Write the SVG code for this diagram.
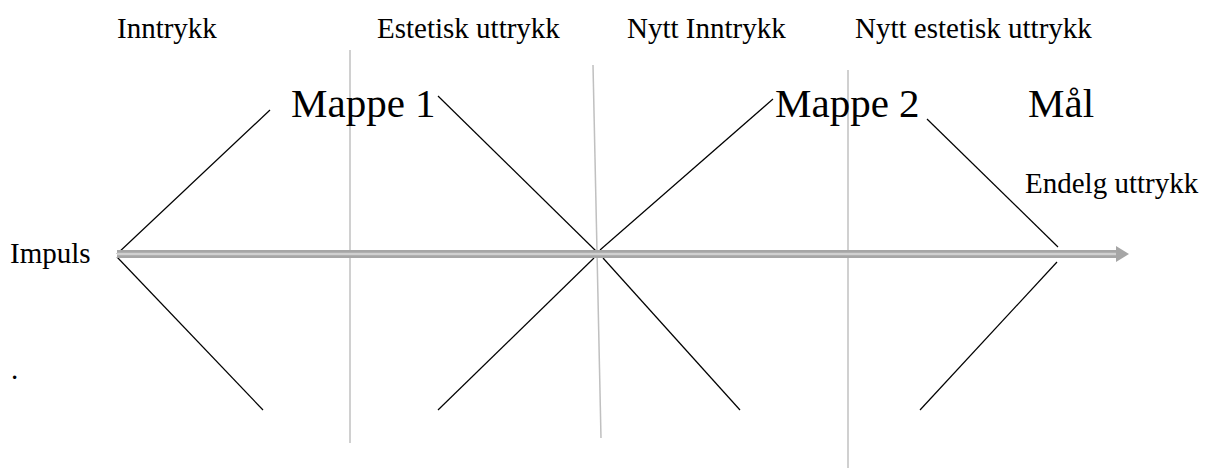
<svg xmlns="http://www.w3.org/2000/svg" width="1210" height="469" viewBox="0 0 1210 469">
<style>
text{font-family:"Liberation Serif","Times New Roman",serif;fill:#000}
.s{font-size:29px}
.b{font-size:41px}
.bl{stroke:#000;stroke-width:1.2;fill:none}
.gv{stroke:#c0c0c0;stroke-width:1.5;fill:none}
</style>
<rect width="1210" height="469" fill="#fff"/>
<g id="dividers">
<line class="gv" x1="350" y1="50" x2="350" y2="443"/>
<line class="gv" x1="593" y1="65" x2="601" y2="438"/>
<line class="gv" x1="848" y1="70" x2="848" y2="468"/>
</g>
<g id="connectors">
<line class="bl" x1="117" y1="254" x2="270" y2="110"/>
<line class="bl" x1="117" y1="257" x2="263" y2="410"/>
<line class="bl" x1="438" y1="96" x2="597" y2="252"/>
<line class="bl" x1="600" y1="250" x2="773" y2="99"/>
<line class="bl" x1="594" y1="258" x2="438" y2="410"/>
<line class="bl" x1="603" y1="258" x2="740" y2="410"/>
<line class="bl" x1="927" y1="119" x2="1058" y2="247"/>
<line class="bl" x1="1057" y1="262" x2="920" y2="410"/>
<g id="impuls-arrow">
<path d="M117,254 H1118" stroke="#a6a6a6" stroke-width="8" fill="none"/>
<path d="M117,254 H1118" stroke="#d0d0d0" stroke-width="2.5" fill="none"/>
<path d="M1116,246 L1129,254 L1116,262 Z" fill="#a6a6a6"/>
</g>
</g>
<g id="labels">
<text class="s" x="117" y="38">Inntrykk</text>
<text class="s" x="377" y="38">Estetisk uttrykk</text>
<text class="s" x="627" y="38">Nytt Inntrykk</text>
<text class="s" x="855" y="38">Nytt estetisk uttrykk</text>
<text class="b" x="291" y="117">Mappe 1</text>
<text class="b" x="775" y="117">Mappe 2</text>
<text class="b" x="1028" y="117">Mål</text>
<text class="s" x="1025" y="193">Endelg uttrykk</text>
<text class="s" x="10" y="263">Impuls</text>
<text class="s" x="11" y="379">.</text>
</g>
</svg>
